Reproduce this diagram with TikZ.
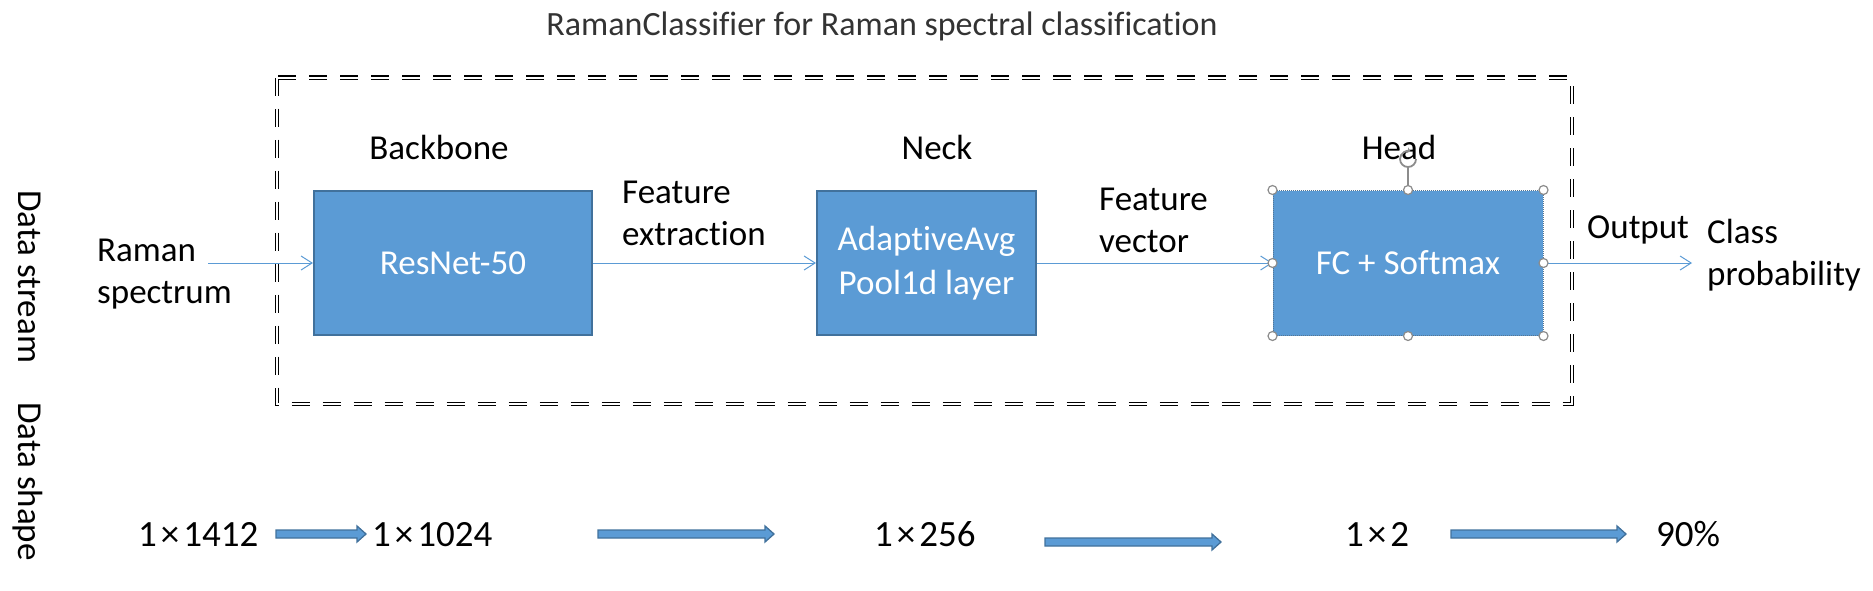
\documentclass[tikz,border=0pt]{standalone}
\usepackage{fontspec}
\setmainfont{Carlito}[Ligatures={NoCommon}]
\usetikzlibrary{arrows.meta,calc}
\definecolor{boxfill}{HTML}{5B9BD5}
\definecolor{boxedge}{HTML}{41719C}
\definecolor{linkcol}{HTML}{5B9BD5}
\definecolor{titlecol}{HTML}{333333}
\definecolor{handlecol}{HTML}{8C8C8C}
\newcommand{\mytimes}{\hspace{4pt}×\hspace{4pt}}
\tikzset{
  lbl/.style={font=\fontsize{35}{42}\selectfont, inner sep=0pt, text=black},
  numlbl/.style={font=\fontsize{37}{42}\selectfont, inner sep=0pt, text=black},
  ttl/.style={font=\fontsize{34}{40}\selectfont, inner sep=0pt, text=titlecol},
  blockbox/.style={draw=boxedge, line width=2pt, fill=boxfill, text=white,
    font=\fontsize{35}{44}\selectfont, align=center, inner sep=0pt},
  link/.style={draw=linkcol, line width=1pt, -{Straight Barb[length=11pt,width=14pt]}},
  frame/.style={draw=black, double=white, double distance=2pt, line width=1.4pt,
    dash pattern=on 18pt off 13pt},
  fatarrow/.style={fill=boxfill, draw=boxedge, line width=1.3pt,
    to path={let \p1=(\tikztostart), \p2=(\tikztotarget) in
      (\x1,\y1+4pt) -- (\x2-9pt,\y1+4pt) -- (\x2-9pt,\y1+8pt) -- (\x2,\y1)
      -- (\x2-9pt,\y1-8pt) -- (\x2-9pt,\y1-4pt) -- (\x1,\y1-4pt) -- cycle}},
  handle/.style={circle, fill=white, draw=handlecol, line width=1.2pt,
    minimum size=9pt, inner sep=0pt},
}
\begin{document}
\begin{tikzpicture}[x=1pt,y=-1pt]
\useasboundingbox (0,0) rectangle (1873,590);
% title
\node[ttl, anchor=base] (title) at (882,35) {RamanClassifier for Raman spectral classification};
% dashed double frame
\draw[frame] (277,77.5) rectangle (1572,404);
% side labels
\node[lbl, rotate=-90, anchor=base west] (dstream) at (18,190) {Data stream};
\node[lbl, rotate=-90, anchor=base west] (dshape) at (18,402) {Data shape};
% stage labels
\node[lbl, anchor=base] (lbackbone) at (439,159) {Backbone};
\node[lbl, anchor=base] (lneck) at (937,159) {Neck};
\node[lbl, anchor=base] (lhead) at (1399,159) {Head};
% blocks
\node[blockbox, minimum width=278pt, minimum height=144pt] (resnet) at (453,263) {ResNet-50};
\node[blockbox, minimum width=219pt, minimum height=144pt] (neck) at (926.5,263) {AdaptiveAvg\\Pool1d layer};
\node[blockbox, draw=boxedge!70!gray, line width=1pt, densely dotted,
      minimum width=270pt, minimum height=145pt] (head) at (1408,263) {FC + Softmax};
% texts along data stream
\node[lbl, anchor=base west] (rin1) at (97,261) {Raman};
\node[lbl, anchor=base west] (rin2) at (97,303) {spectrum};
\node[lbl, anchor=base west] (fe1) at (622,203) {Feature};
\node[lbl, anchor=base west] (fe2) at (622,245) {extraction};
\node[lbl, anchor=base west] (fv1) at (1099,210) {Feature};
\node[lbl, anchor=base west] (fv2) at (1099,252) {vector};
\node[lbl, anchor=base west] (outl) at (1587,238) {Output};
\node[lbl, anchor=base west] (cp1) at (1707,243) {Class};
\node[lbl, anchor=base west] (cp2) at (1707,285) {probability};
% connectors
\coordinate (instart) at (208,263);
\coordinate (outend) at (1692,263);
\draw[link] (instart) -- (resnet.west);
\draw[link] (resnet.east) -- (neck.west);
\draw[link] (neck.east) -- (head.west);
\draw[link] (head.east) -- (outend);
% selection handles on head
\draw[handlecol, line width=1.2pt] (head.north) -- (1408,168) coordinate (rotbase);
\coordinate (rot) at (1408,159);
\draw[handlecol, line width=1.8pt, -{Stealth[length=4pt,width=6pt]}] (rot) ++(8,0) arc[start angle=0, end angle=290, radius=8];
\foreach \a/\n in {north west/1, north/2, north east/3, east/4, south east/5, south/6, south west/7, west/8}
  \node[handle] (hd\n) at (head.\a) {};
% data shapes
\node[numlbl, anchor=base west] (s1) at (138,546) {1\mytimes1412};
\node[numlbl, anchor=base west] (s2) at (372,546) {1\mytimes1024};
\node[numlbl, anchor=base west] (s3) at (874,546) {1\mytimes256};
\node[numlbl, anchor=base west] (s4) at (1345,546) {1\mytimes2};
\node[numlbl, anchor=base west] (s5) at (1656,546) {90\%};
\coordinate (a1s) at (276,534); \coordinate (a1e) at (366,534);
\coordinate (a2s) at (598,534); \coordinate (a2e) at (774,534);
\coordinate (a3s) at (1045,542); \coordinate (a3e) at (1221,542);
\coordinate (a4s) at (1451,534); \coordinate (a4e) at (1626,534);
\path[fatarrow] (a1s) to (a1e);
\path[fatarrow] (a2s) to (a2e);
\path[fatarrow] (a3s) to (a3e);
\path[fatarrow] (a4s) to (a4e);
\end{tikzpicture}
\end{document}
